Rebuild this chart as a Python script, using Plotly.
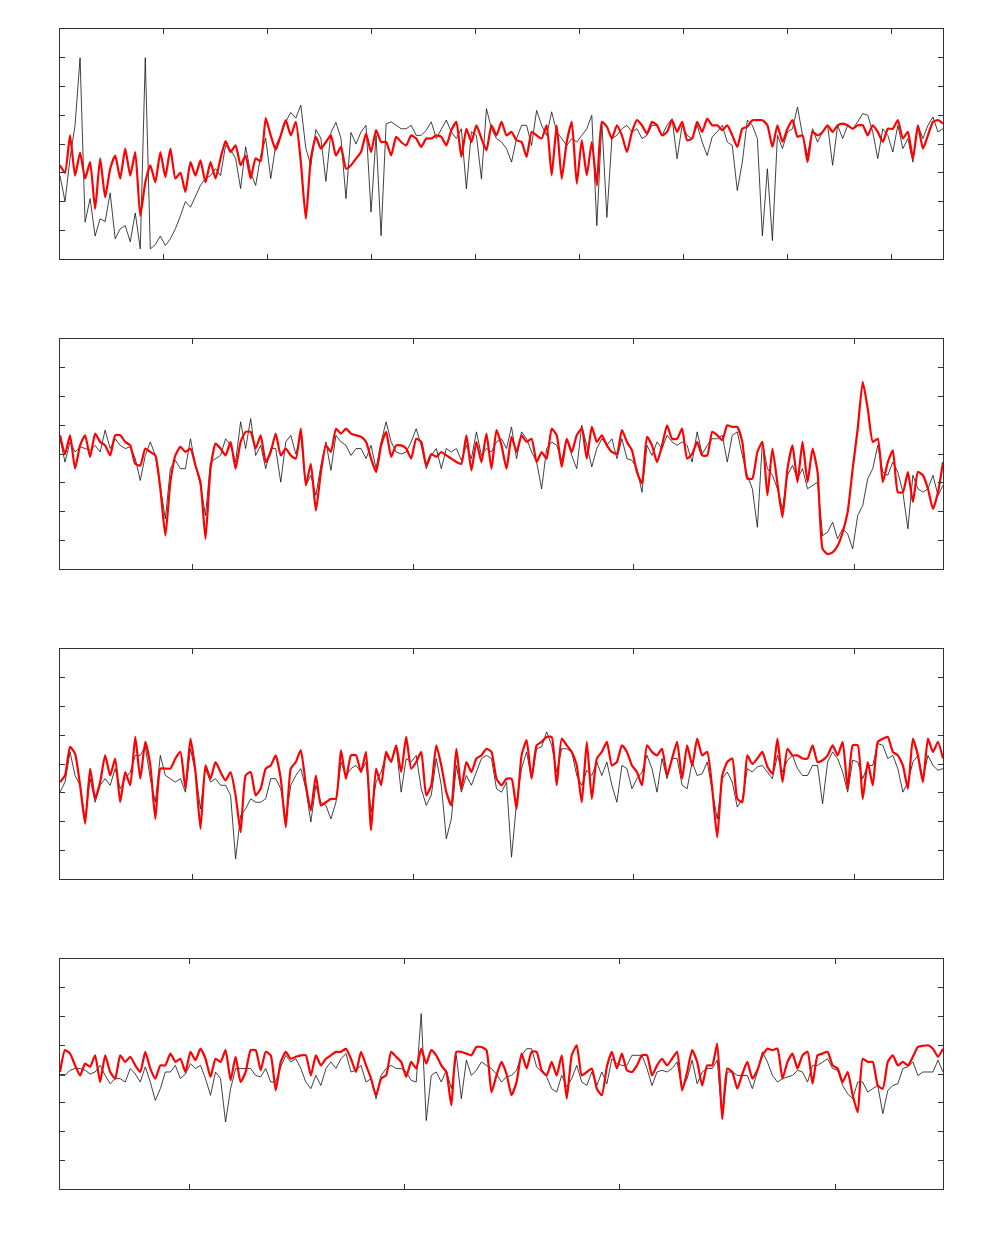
import numpy as np
import plotly.graph_objects as go

# ---------------- data ----------------
p1_black = [2.9, 2.0, 3.5, 4.65, 7.0, 1.28, 2.1, 0.8, 1.4, 1.3, 2.3, 0.7, 1.05, 1.16, 0.6, 1.6, 0.35, 7.0, 0.35, 0.5,
            0.8, 0.47, 0.7, 1.05, 1.5, 2.0, 1.8, 2.2, 2.56, 2.8, 2.9, 3.14, 2.9, 3.95, 3.8, 3.5, 2.45, 3.9, 3.0, 2.56,
            3.6, 4.2, 2.8, 3.95, 4.3, 4.77, 5.1, 4.9, 5.35, 3.85, 3.26, 4.5, 4.2, 2.7, 4.4, 4.75, 4.2, 2.1, 4.4,
            4.0, 4.42, 4.65, 1.63, 4.3, 0.81, 4.7, 4.77, 4.65, 4.53, 4.53, 4.65, 4.3, 4.3, 4.48, 4.77, 4.19, 4.53, 4.83, 4.42,
            4.19, 4.53, 2.44, 4.42, 4.3, 2.79, 5.23, 4.53, 4.19, 4.07, 3.84, 3.37, 4.19, 4.65, 4.65, 3.95, 5.17, 4.65, 4.3, 5.12,
            4.42, 4.19, 3.95, 4.19, 4.07, 4.3, 4.53, 5.0, 1.16, 4.77, 1.45, 4.19, 4.3, 4.53, 4.65, 4.42, 4.53, 4.19, 4.3,
            4.65, 4.65, 4.3, 4.65, 4.88, 3.49, 4.65, 4.3, 4.19, 4.65, 4.07, 3.6, 4.25, 4.42, 4.65, 4.07, 3.95, 2.38, 3.37, 4.83,
            4.65, 4.19, 0.81, 3.14, 0.64, 4.3, 3.84, 4.42, 4.53, 5.29, 4.3, 3.6, 4.53, 4.07, 4.42, 4.65, 3.26, 4.65, 4.19, 4.65,
            4.53, 4.77, 5.06, 5.0, 4.42, 3.49, 4.53, 4.3, 3.72, 4.65, 3.84, 4.19, 3.37, 4.65, 4.19, 4.65, 4.94, 4.42, 4.53]
p1_red = [3.26, 3.0, 4.3, 2.9, 3.7, 2.8, 3.37, 1.74, 3.5, 2.15, 3.14, 3.6, 2.8, 3.84, 2.9, 3.72, 1.5, 2.67, 3.26, 2.67,
          3.72, 2.85, 3.84, 2.8, 3.0, 2.33, 3.37, 2.9, 3.43, 2.67, 3.37, 2.8, 3.5, 4.1, 3.72, 3.95, 3.26, 3.6, 2.8, 3.5,
          3.4, 4.9, 4.3, 3.8, 4.3, 4.83, 4.3, 4.77, 3.37, 1.4, 3.5, 4.25, 3.84, 4.07, 4.3, 3.6, 3.9, 3.14, 3.26,
          3.49, 3.72, 4.36, 3.72, 4.48, 4.07, 4.07, 3.6, 4.25, 4.07, 3.95, 4.3, 4.19, 3.9, 4.19, 4.19, 4.3, 4.25, 3.95, 4.48,
          4.77, 3.55, 4.53, 4.07, 4.65, 4.19, 3.78, 4.65, 4.3, 4.77, 4.3, 4.42, 4.13, 4.07, 3.55, 4.42, 4.3, 4.19, 4.65, 2.91,
          4.65, 2.79, 4.07, 4.77, 2.62, 4.13, 2.91, 4.07, 2.56, 4.77, 4.6, 4.19, 4.65, 4.3, 3.72, 4.42, 4.83, 4.65, 4.36,
          4.77, 4.65, 4.3, 4.42, 4.83, 4.42, 4.77, 4.13, 4.19, 4.77, 4.42, 4.88, 4.65, 4.65, 4.48, 4.65, 4.3, 3.9, 4.53, 4.6,
          4.83, 4.83, 4.83, 4.65, 3.9, 4.65, 4.07, 4.53, 4.83, 4.25, 4.3, 3.37, 4.42, 4.3, 4.42, 4.65, 4.42, 4.65, 4.71, 4.65,
          4.53, 4.65, 4.65, 4.3, 4.65, 4.42, 4.07, 4.53, 4.53, 4.83, 4.19, 4.42, 3.49, 4.65, 3.84, 4.3, 4.77, 4.83, 4.71]

p2_black = [4.53, 3.72, 4.42, 4.07, 4.25, 4.19, 4.13, 4.3, 4.07, 4.83, 4.19, 4.53, 4.3, 4.19, 4.25, 3.84, 3.08, 3.95, 4.42, 3.95,
            2.79, 1.74, 3.49, 3.78, 3.49, 3.49, 4.53, 3.6, 2.91, 1.86, 3.72, 3.84, 3.95, 4.53, 4.3, 3.72, 5.12, 4.19, 5.23, 3.95,
            4.3, 3.49, 4.19, 4.19, 3.02, 4.42, 4.65, 4.0, 4.65, 2.91, 3.26, 2.56, 3.6, 4.42, 3.43, 4.65, 4.42, 4.3, 3.95,
            4.19, 4.19, 3.84, 4.3, 3.49, 4.42, 5.12, 4.42, 4.07, 4.0, 4.07, 4.42, 4.88, 4.3, 3.49, 3.95, 4.19, 3.49, 4.19, 4.07,
            4.19, 3.78, 4.3, 3.84, 4.77, 3.95, 4.19, 4.07, 4.42, 4.53, 4.19, 4.94, 3.84, 4.77, 4.53, 4.07, 3.72, 2.79, 4.19, 4.42,
            4.3, 3.78, 4.53, 3.95, 3.49, 5.0, 4.3, 3.55, 4.19, 4.53, 4.3, 4.53, 3.84, 4.53, 3.84, 3.78, 3.49, 2.67, 4.3,
            3.95, 4.42, 4.19, 4.65, 4.42, 4.3, 4.42, 4.3, 3.72, 4.77, 4.0, 4.3, 4.53, 4.53, 4.65, 3.72, 4.65, 4.77, 3.95, 3.26,
            2.79, 1.45, 4.42, 3.49, 3.26, 2.79, 2.09, 3.26, 3.6, 3.14, 3.49, 2.79, 2.91, 3.02, 1.16, 1.28, 1.63, 1.05, 1.4, 1.22,
            0.7, 1.86, 2.21, 3.14, 3.49, 4.3, 3.37, 3.26, 3.72, 3.37, 2.67, 1.4, 3.26, 2.79, 2.67, 2.79, 3.26, 2.56, 2.91]
p2_red = [4.65, 4.0, 4.65, 3.49, 4.3, 4.65, 3.9, 4.71, 4.42, 4.3, 3.95, 4.65, 4.65, 4.42, 4.3, 3.66, 3.6, 4.19, 4.07, 3.95,
          2.79, 1.16, 3.02, 3.95, 4.25, 4.07, 4.19, 3.6, 3.02, 1.05, 3.49, 4.36, 4.19, 3.95, 4.42, 3.49, 4.42, 4.77, 4.77, 4.19,
          4.65, 3.72, 4.07, 4.71, 3.95, 4.19, 3.95, 3.84, 4.88, 2.91, 3.66, 2.03, 3.37, 4.3, 4.07, 4.88, 4.71, 4.88, 4.71,
          4.65, 4.6, 4.42, 3.84, 3.37, 4.3, 4.77, 3.9, 4.3, 4.3, 4.19, 3.84, 4.53, 4.42, 3.6, 4.0, 3.9, 4.07, 3.95, 3.84,
          3.72, 3.66, 4.65, 3.43, 4.42, 3.72, 4.71, 3.49, 4.83, 4.3, 3.49, 4.6, 4.07, 4.65, 4.42, 4.53, 3.72, 4.07, 3.84, 4.88,
          4.65, 3.55, 4.53, 4.07, 4.65, 4.88, 3.84, 4.94, 4.42, 4.65, 4.3, 4.07, 4.0, 4.83, 4.42, 4.13, 3.37, 2.98, 4.6,
          4.3, 3.72, 4.3, 5.0, 4.53, 4.53, 4.88, 3.84, 4.0, 4.42, 3.95, 3.95, 4.77, 4.65, 4.48, 5.0, 4.94, 4.94, 4.42, 3.14,
          3.14, 4.07, 4.42, 2.56, 4.19, 2.97, 1.8, 3.49, 4.3, 3.02, 4.42, 3.02, 4.19, 3.37, 0.7, 0.52, 0.58, 0.81, 1.28, 1.98,
          3.49, 4.88, 6.51, 5.58, 4.42, 4.53, 3.02, 3.72, 4.13, 2.67, 2.67, 3.37, 2.33, 3.37, 3.26, 2.79, 2.09, 2.67, 3.72]

p3_black = [3.02, 3.37, 4.42, 3.6, 3.26, 2.09, 3.49, 2.67, 3.26, 3.49, 3.26, 3.84, 3.14, 3.49, 3.72, 4.3, 4.3, 4.6, 3.49, 2.67,
            4.3, 3.6, 3.49, 3.37, 3.49, 3.02, 4.53, 3.72, 2.44, 3.84, 3.37, 3.49, 3.26, 3.26, 2.91, 0.7, 2.21, 2.44, 2.79, 2.67,
            2.67, 2.79, 3.49, 3.49, 3.14, 2.09, 3.26, 3.6, 3.84, 3.14, 1.98, 3.26, 2.67, 2.56, 2.09, 2.67, 4.07, 3.6, 3.84,
            3.95, 3.72, 4.07, 2.33, 3.37, 3.72, 4.3, 4.07, 4.65, 3.02, 4.19, 4.07, 4.3, 3.14, 2.56, 2.91, 4.19, 3.26, 1.4, 2.09,
            3.95, 3.02, 3.6, 3.26, 3.72, 4.19, 4.3, 4.19, 3.14, 3.02, 3.37, 0.76, 2.67, 3.84, 4.42, 3.49, 4.53, 4.6, 5.12, 4.65,
            3.72, 4.53, 4.53, 4.42, 3.6, 3.26, 3.78, 3.6, 4.07, 3.6, 4.07, 3.26, 2.67, 3.95, 3.84, 3.14, 3.49, 3.72, 4.3,
            3.84, 3.02, 4.19, 3.49, 4.19, 4.19, 3.26, 3.14, 4.07, 3.6, 3.66, 4.07, 3.02, 2.09, 3.49, 3.72, 3.37, 2.5, 2.79, 3.84,
            3.72, 3.9, 3.95, 3.72, 3.49, 4.3, 3.72, 4.13, 4.3, 3.84, 3.6, 3.6, 3.95, 3.95, 2.62, 4.07, 4.42, 4.19, 3.72, 3.02,
            4.13, 4.07, 3.49, 3.95, 3.95, 4.71, 4.65, 4.19, 4.3, 3.84, 3.02, 3.37, 4.07, 4.3, 3.49, 4.3, 3.95, 3.78, 3.84]
p3_red = [3.37, 3.6, 4.6, 4.36, 3.26, 1.92, 3.84, 2.79, 3.37, 4.3, 3.6, 4.19, 2.67, 3.72, 3.26, 4.94, 3.49, 4.77, 3.95, 2.09,
          3.84, 3.84, 3.84, 4.19, 4.42, 3.14, 4.88, 3.72, 1.74, 3.95, 3.49, 4.07, 3.72, 3.43, 3.72, 2.91, 1.63, 3.6, 3.72, 2.91,
          3.14, 3.84, 3.95, 4.3, 3.49, 1.8, 3.84, 4.07, 4.48, 3.26, 2.38, 3.6, 2.56, 2.67, 2.79, 2.79, 4.48, 3.49, 4.3,
          4.3, 3.72, 4.42, 1.7, 3.84, 3.26, 4.42, 4.07, 4.65, 3.72, 4.94, 3.84, 4.07, 4.42, 2.91, 3.26, 4.65, 3.95, 3.02, 2.56,
          4.53, 3.14, 4.07, 3.72, 4.19, 4.3, 4.53, 4.42, 3.49, 3.26, 3.49, 3.49, 2.44, 4.3, 4.83, 3.49, 4.65, 4.77, 4.94, 4.94,
          3.26, 4.88, 4.65, 4.42, 3.95, 2.67, 4.77, 2.79, 4.19, 4.42, 4.77, 3.95, 4.07, 4.65, 4.42, 3.95, 3.72, 3.26, 4.65,
          4.42, 4.3, 4.53, 3.6, 4.19, 4.77, 3.49, 4.65, 3.95, 4.88, 4.3, 4.42, 3.14, 1.45, 3.6, 4.07, 4.19, 2.79, 2.67, 4.3,
          4.0, 4.19, 4.42, 3.9, 3.66, 4.88, 3.37, 4.53, 4.3, 4.3, 4.19, 4.19, 4.65, 4.07, 4.13, 4.3, 4.65, 4.3, 4.77, 3.14,
          4.65, 4.65, 2.79, 4.07, 3.26, 4.77, 4.88, 4.94, 4.42, 4.3, 3.95, 3.14, 4.88, 4.3, 3.37, 4.88, 4.42, 4.77, 4.19]

p4_black = [3.95, 3.95, 4.13, 4.19, 4.19, 4.13, 4.0, 4.07, 4.3, 3.95, 3.66, 3.84, 3.84, 3.72, 4.19, 4.0, 3.72, 4.25, 3.72, 3.08,
            3.49, 4.07, 4.07, 4.3, 3.84, 4.0, 4.36, 4.19, 4.3, 3.84, 3.26, 4.07, 3.84, 2.33, 3.49, 4.19, 4.19, 4.19, 4.19, 3.95,
            3.9, 4.19, 3.72, 3.72, 4.25, 4.65, 4.42, 4.53, 4.19, 3.72, 3.49, 3.95, 3.6, 4.19, 4.42, 4.19, 4.53, 4.71, 4.07,
            4.13, 4.3, 3.72, 3.84, 3.14, 3.95, 4.19, 4.3, 4.19, 4.19, 4.07, 3.78, 3.72, 6.1, 2.38, 3.95, 4.07, 3.72, 4.13, 3.49,
            4.65, 3.14, 4.48, 3.95, 4.13, 4.42, 4.3, 4.19, 4.0, 3.72, 3.9, 3.95, 4.13, 4.65, 4.88, 4.88, 4.25, 4.07, 3.9, 3.49,
            3.37, 3.95, 3.55, 3.84, 4.3, 3.72, 3.6, 4.07, 3.6, 4.07, 3.66, 4.53, 4.36, 4.3, 4.3, 4.65, 4.65, 4.65, 4.19,
            3.6, 4.07, 4.13, 4.07, 4.19, 4.42, 3.49, 3.84, 4.48, 3.66, 4.07, 4.19, 4.19, 4.48, 2.44, 4.07, 4.07, 3.95, 3.95, 3.95,
            3.49, 4.07, 4.77, 4.42, 3.95, 3.72, 3.84, 3.9, 3.95, 4.13, 4.07, 3.72, 4.3, 4.3, 4.42, 4.53, 4.19, 4.13, 3.6, 3.31,
            3.14, 3.72, 3.72, 3.37, 3.49, 3.6, 2.62, 3.43, 3.6, 3.66, 4.19, 4.25, 4.42, 3.95, 4.07, 4.07, 4.07, 4.48, 4.07]
p4_red = [4.07, 4.83, 4.71, 4.3, 3.95, 4.36, 4.25, 4.65, 3.72, 4.65, 4.07, 3.84, 4.65, 4.42, 4.6, 4.3, 4.07, 4.77, 4.19, 3.84,
          4.3, 4.3, 4.71, 4.42, 4.53, 4.07, 4.77, 4.48, 4.88, 4.53, 3.9, 4.53, 4.42, 4.83, 3.78, 4.6, 3.72, 4.07, 4.83, 4.83,
          4.13, 4.77, 4.65, 3.43, 4.42, 4.77, 4.53, 4.6, 4.65, 4.65, 3.95, 4.65, 4.3, 4.53, 4.65, 4.77, 4.77, 4.88, 4.53,
          4.07, 4.77, 4.3, 3.84, 3.26, 3.84, 3.95, 4.77, 4.6, 4.42, 3.9, 4.42, 4.19, 4.88, 4.36, 4.83, 4.65, 4.3, 4.07, 2.91,
          4.77, 4.77, 4.71, 4.65, 4.94, 4.94, 4.83, 3.37, 3.95, 4.42, 4.0, 3.26, 3.72, 4.71, 4.19, 4.77, 4.77, 4.13, 3.95, 4.42,
          3.95, 4.65, 3.14, 4.65, 5.0, 3.95, 4.07, 4.19, 3.49, 3.26, 4.25, 4.77, 4.19, 4.71, 4.13, 4.07, 4.3, 4.65, 4.65,
          3.95, 4.3, 4.53, 4.3, 4.53, 4.77, 3.43, 4.07, 4.83, 4.42, 3.6, 4.3, 4.3, 5.06, 2.44, 4.19, 4.07, 3.49, 4.0, 4.42,
          3.84, 4.13, 4.65, 4.88, 4.83, 4.88, 3.84, 4.42, 4.71, 4.19, 4.65, 4.77, 3.66, 4.65, 4.71, 4.77, 4.3, 4.19, 3.72, 4.07,
          3.26, 2.67, 4.53, 4.42, 4.42, 3.6, 3.49, 4.42, 4.65, 4.3, 4.42, 4.3, 4.6, 4.94, 4.98, 5.0, 4.88, 4.6, 4.88]

x_ranges = [[0, 850], [40, 440], [40, 440], [40, 450]]
x_ticks = [[100, 200, 300, 400, 500, 600, 700, 800], [100, 200, 300, 400], [100, 200, 300, 400], [100, 200, 300, 400]]
y_range = [0, 8]
y_ticks = [1, 2, 3, 4, 5, 6, 7]

blacks = [p1_black, p2_black, p3_black, p4_black]
reds = [p1_red, p2_red, p3_red, p4_red]

# ---------------- layout geometry ----------------
W, H = 1003, 1240
x_dom = [60 / W, 943 / W]
tops = [29, 339, 649, 959]
ph = 230

fig = go.Figure()
layout = dict(width=W, height=H, margin=dict(l=0, r=0, t=0, b=0),
              paper_bgcolor="white", plot_bgcolor="white", showlegend=False)

frame_col = "#333333"
for i in range(4):
    n = i + 1
    xa = "x" if n == 1 else f"x{n}"
    ya = "y" if n == 1 else f"y{n}"
    xs_b = np.linspace(x_ranges[i][0], x_ranges[i][1], len(blacks[i]))
    xs_r = np.linspace(x_ranges[i][0], x_ranges[i][1], len(reds[i]))
    fig.add_trace(go.Scatter(x=xs_b, y=blacks[i], mode="lines", xaxis=xa, yaxis=ya,
                             line=dict(color="#111111", width=0.8), hoverinfo="skip"))
    fig.add_trace(go.Scatter(x=xs_r, y=reds[i], mode="lines", xaxis=xa, yaxis=ya,
                             line=dict(color="#ff0000", width=2.2, shape="spline", smoothing=0.5),
                             hoverinfo="skip"))
    top = tops[i]
    y_dom = [1 - (top + ph) / H, 1 - top / H]
    axcommon = dict(showline=True, linecolor=frame_col, linewidth=1, mirror="ticks",
                    ticks="inside", ticklen=5, tickwidth=1, tickcolor=frame_col,
                    showgrid=False, zeroline=False, showticklabels=False)
    layout["xaxis" if n == 1 else f"xaxis{n}"] = dict(domain=x_dom, range=x_ranges[i], anchor=ya,
                                                     tickvals=x_ticks[i], **axcommon)
    layout["yaxis" if n == 1 else f"yaxis{n}"] = dict(domain=y_dom, range=y_range, anchor=xa,
                                                     tickvals=y_ticks, **axcommon)

fig.update_layout(**layout)
fig.write_html("out.html")
